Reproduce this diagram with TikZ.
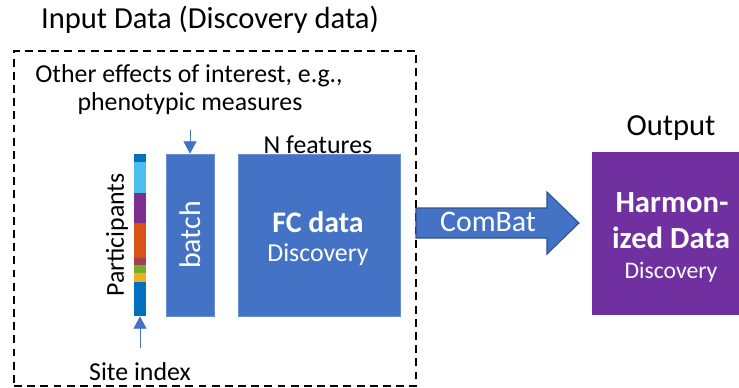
\documentclass[tikz,border=0pt]{standalone}
\usepackage{fontspec}
\setmainfont{Carlito}
\usetikzlibrary{arrows.meta,positioning}
\definecolor{box-blue}{HTML}{4472C4}
\definecolor{edge-blue}{HTML}{2F528F}
\definecolor{out-purple}{HTML}{7030A0}

\begin{document}
\begin{tikzpicture}[
  x=0.02cm, y=-0.02cm, >={Triangle[width=7.4pt,length=7pt]},
  label/.style={inner sep=0pt, font=\fontsize{14.7}{17}\selectfont},
  head/.style={inner sep=0pt, font=\fontsize{17.4}{20}\selectfont},
  big/.style={inner sep=0pt, text=white, font=\fontsize{17}{20}\selectfont},
  datablock/.style={fill=box-blue, draw=box-blue!80!white, inner sep=0pt,
    text=white, align=center},
  inbox/.style={draw, dashed, line width=1.1pt, dash pattern=on 4.5pt off 3pt,
    minimum width=8.04cm, minimum height=6.7cm},
  pointer/.style={->, draw=box-blue, thin},
]
  \useasboundingbox (0,0) rectangle (739,387);

  % input side
  \node[head] (intitle) at (210,20) {Input Data (Discovery data)};
  \node[inbox] (inbox) at (215,218.5) {};
  \node[label] (effects) at (189,76) {Other effects of interest, e.g.,};
  \node[label] (pheno) at (190,104) {phenotypic measures};
  \node[label] (nfeat) at (318,145) {N features};

  \node[draw=none, minimum width=0.24cm, minimum height=3.24cm, inner sep=0pt] (bar) at (140,235) {};
  \foreach \ya/\yb/\col in {154/162/0072BD, 162/193/4DBEEE, 193/223/7E2F8E,
      223/258/D95319, 258/265/A2404F, 265/273/77AC30, 273/282/EDB120, 282/316/0072BD}{
    \definecolor{segcol}{HTML}{\col}
    \fill[segcol] (134,\ya) rectangle (146,\yb);
  }
  \node[label, rotate=90] (parts) at (117,235) {Participants};
  \node[label] (site) at (140,372) {Site index};

  \node[datablock, minimum width=0.96cm, minimum height=3.24cm] (batch) at (190,235) {};
  \node[big, rotate=90] at (batch.center) {batch};
  \node[datablock, minimum width=3.24cm, minimum height=3.24cm] (fc) at (319,235) {};
  \node[big, font=\fontsize{17}{20}\selectfont\bfseries] (fctitle) at (318,222) {FC data};
  \node[label, text=white] (fcsub) at (318,255) {Discovery};

  \coordinate (batchin) at (190,130);
  \coordinate (sitein) at (140,348);
  \draw[pointer] (batchin) -- (batch.north);
  \draw[pointer] (sitein) -- (bar.south);

  % harmonization step
  \draw[fill=box-blue, draw=edge-blue, line width=0.6pt]
    (416,208) -- (547,208) -- (547,192) -- (579,223) -- (547,254) -- (547,238) -- (416,238) -- cycle;
  \node[big] (combat) at (488,222) {ComBat};

  % output side
  \node[head] (outtitle) at (671,128) {Output};
  \node[fill=out-purple, minimum width=2.94cm, minimum height=3.26cm, inner sep=0pt] (harm) at (665.5,233.5) {};
  \node[big, font=\fontsize{17.5}{20}\selectfont\bfseries] (harm1) at (672,203) {Harmon-};
  \node[big, font=\fontsize{17.5}{20}\selectfont\bfseries] (harm2) at (671,238) {ized Data};
  \node[label, text=white, font=\fontsize{13.5}{16}\selectfont] (harm3) at (671,272) {Discovery};
\end{tikzpicture}
\end{document}
